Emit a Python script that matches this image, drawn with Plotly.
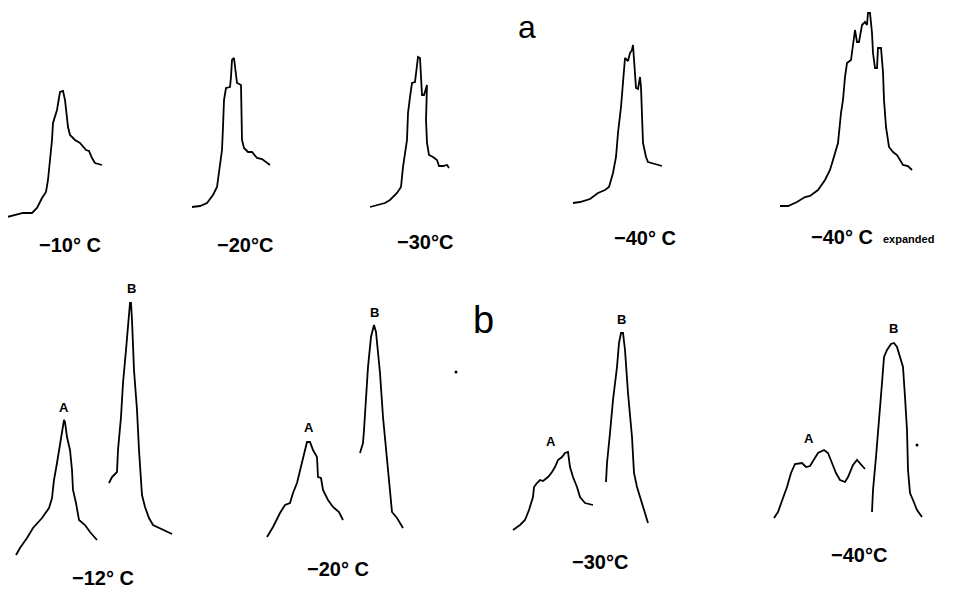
import plotly.graph_objects as go

# ---------------- data: traced spectra (local shift units, intensity) ----------------
# Series a
a_m10_x = [0, 8, 16, 25, 30, 35, 39, 41, 43, 45, 46, 50, 53, 56, 58, 60, 61, 63, 68, 73, 76, 79, 82, 85, 88, 95]
a_m10_y = [0, 2, 4, 4, 9, 19, 25, 37, 54, 77, 94, 107, 125, 126, 117, 100, 90, 82, 77, 74, 70, 67, 66, 59, 54, 52]

a_m20_x = [1, 9, 16, 22, 26, 28, 31, 32, 33, 35, 39, 40, 41, 43, 44, 46, 50, 50.3, 51, 53, 57, 61, 64, 66, 71, 75, 79]
a_m20_y = [0, 1, 4, 12, 20, 34, 57, 80, 107, 119, 120, 130, 147, 149, 142, 124, 122, 100, 67, 59, 55, 55, 52, 49, 48, 45, 42]

a_m30_x = [0, 7, 15, 20, 27, 31, 33, 37, 38, 40, 42, 45, 47, 48, 50, 51, 52, 54, 56, 57, 56, 57, 59, 63, 67, 69, 73, 77, 79]
a_m30_y = [0, 2, 4, 7, 14, 20, 40, 67, 94, 110, 124, 125, 140, 150, 149, 134, 112, 112, 120, 122, 87, 64, 52, 50, 47, 41, 41, 42, 39]

a_m40_x = [0, 7, 17, 25, 32, 36, 38, 40, 43, 45, 48, 50, 51, 52, 54, 55, 57, 59, 60, 61, 63, 65, 67, 68, 69, 70, 73, 75, 82, 89]
a_m40_y = [0, 1, 4, 10, 13, 16, 23, 30, 46, 70, 96, 120, 126, 145, 143, 142, 150, 153, 158, 143, 115, 114, 126, 116, 86, 60, 46, 41, 39, 37]

a_m40e_x = [0, 8, 17, 25, 30, 38, 45, 50, 53, 58, 61, 63, 65, 67, 71, 73, 75, 77, 79, 82, 85, 87, 88, 90, 92, 93, 95, 97,
            98, 101, 103, 104, 106, 109, 113, 117, 120, 123, 128, 132]
a_m40e_y = [0, 0, 4, 9, 10, 16, 26, 36, 46, 63, 93, 106, 129, 143, 146, 163, 176, 164, 164, 181, 184, 181, 193, 193, 173, 153, 138, 138,
            158, 158, 134, 106, 79, 59, 54, 51, 46, 41, 40, 36]

# Series b  (peak A and peak B)
b_m12_A_x = [0, 4, 11, 17, 26, 33, 36, 38, 41, 43, 45, 47, 48, 49, 51, 54, 56, 57, 60, 63, 69, 74, 81]
b_m12_A_y = [0, 7, 17, 27, 37, 47, 57, 75, 92, 105, 118, 132, 135, 133, 118, 105, 85, 65, 52, 35, 30, 23, 15]
b_m12_B_x = [93, 96, 101, 102, 105, 107, 110, 112, 114, 115, 116, 118, 121, 123, 126, 129, 133, 137, 146, 156]
b_m12_B_y = [72, 78, 83, 105, 138, 172, 205, 232, 252, 252, 235, 185, 145, 105, 60, 48, 37, 30, 26, 21]

b_m20_A_x = [0, 6, 13, 18, 23, 26, 30, 33, 36, 39, 40, 43, 46, 50, 51, 54, 56, 61, 66, 72, 76]
b_m20_A_y = [0, 10, 24, 32, 34, 44, 54, 67, 77, 90, 95, 95, 87, 80, 60, 59, 47, 37, 30, 25, 17]
b_m20_B_x = [93, 96, 97, 99, 101, 104, 106, 107, 109, 113, 116, 120, 123, 125, 130, 136]
b_m20_B_y = [84, 94, 107, 134, 170, 200, 210, 212, 205, 164, 120, 74, 40, 25, 19, 9]

b_m30_A_x = [0, 7, 12, 16, 20, 21, 24, 27, 30, 35, 39, 42, 45, 49, 52, 55, 57, 60, 64, 67, 72, 80]
b_m30_A_y = [0, 5, 10, 20, 33, 43, 47, 50, 49, 53, 58, 63, 70, 73, 77, 78, 63, 53, 43, 33, 27, 25]
b_m30_B_x = [93, 94, 97, 100, 104, 106, 108, 110, 112, 115, 119, 121, 124, 129, 135]
b_m30_B_y = [48, 67, 97, 130, 163, 187, 197, 197, 180, 137, 93, 57, 43, 27, 7]

b_m40_A_x = [0, 4, 9, 13, 17, 21, 28, 32, 36, 41, 44, 50, 54, 58, 62, 66, 71, 74, 79, 83, 86, 91]
b_m40_A_y = [0, 6, 20, 31, 45, 54, 55, 51, 52, 60, 65, 68, 65, 55, 45, 38, 36, 41, 53, 58, 55, 49]
b_m40_B_x = [98, 99, 102, 105, 108, 110, 113, 117, 120, 123, 126, 129, 131, 133, 134, 136, 139, 143, 148]
b_m40_B_y = [6, 28, 61, 95, 135, 161, 168, 174, 175, 171, 161, 151, 121, 88, 48, 25, 18, 8, 1]

# stray specks visible on the scanned original
speck_x = [456, 917]
speck_y = [372, 445]

temp_labels_a = ["\u221210\u00b0 C", "\u221220\u00b0C", "\u221230\u00b0C", "\u221240\u00b0 C", "\u221240\u00b0 C"]
temp_labels_b = ["\u221212\u00b0 C", "\u221220\u00b0 C", "\u221230\u00b0C", "\u221240\u00b0C"]

series_a = [(a_m10_x, a_m10_y), (a_m20_x, a_m20_y), (a_m30_x, a_m30_y), (a_m40_x, a_m40_y), (a_m40e_x, a_m40e_y)]
series_b = [
    [(b_m12_A_x, b_m12_A_y), (b_m12_B_x, b_m12_B_y)],
    [(b_m20_A_x, b_m20_A_y), (b_m20_B_x, b_m20_B_y)],
    [(b_m30_A_x, b_m30_A_y), (b_m30_B_x, b_m30_B_y)],
    [(b_m40_A_x, b_m40_A_y), (b_m40_B_x, b_m40_B_y)],
]

# ---------------- layout: panel origins (left, baseline) in canvas units ----------------
origins_a = [(7, 217), (191, 207), (370, 207), (573, 203), (780, 206)]
label_pos_a = [(70, 245), (245, 245), (425, 242), (645, 238), (842, 237)]
origins_b = [(16, 555), (267, 537), (513, 530), (774, 518)]
label_pos_b = [(103, 578), (338, 569), (600, 562), (859, 555)]
# A / B letters offsets (relative to each panel origin)
ab_pos = [((48, 148), (115, 267)), ((42, 110), (107, 225)), ((38, 89), (108, 211)), ((35, 80), (119, 190))]

LINE = dict(color="black", width=1.8)
FAM = "Liberation Sans, Arial, sans-serif"
LABEL_FONT = dict(family=FAM, size=20, color="black")

fig = go.Figure()

def add_curve(ox, oy, xs, ys):
    fig.add_trace(go.Scatter(
        x=[ox + v for v in xs], y=[oy - v for v in ys],
        mode="lines", line=LINE, hoverinfo="skip", showlegend=False))

for (xs, ys), (ox, oy) in zip(series_a, origins_a):
    add_curve(ox, oy, xs, ys)

for pair, (ox, oy) in zip(series_b, origins_b):
    for xs, ys in pair:
        add_curve(ox, oy, xs, ys)

fig.add_trace(go.Scatter(x=speck_x, y=speck_y, mode="markers",
                         marker=dict(color="black", size=3), hoverinfo="skip", showlegend=False))

ann = []
for txt, (lx, ly) in zip(temp_labels_a, label_pos_a):
    ann.append(dict(x=lx, y=ly, text="<b>%s</b>" % txt, font=LABEL_FONT))
ann.append(dict(x=881, y=239, text="<b>expanded</b>", xanchor="left",
                font=dict(family=FAM, size=11, color="black")))
for txt, (lx, ly) in zip(temp_labels_b, label_pos_b):
    ann.append(dict(x=lx, y=ly, text="<b>%s</b>" % txt, font=LABEL_FONT))
for ((ax_, ay_), (bx_, by_)), (ox, oy) in zip(ab_pos, origins_b):
    ann.append(dict(x=ox + ax_, y=oy - ay_, text="<b>A</b>", font=dict(family=FAM, size=13, color="black")))
    ann.append(dict(x=ox + bx_, y=oy - by_, text="<b>B</b>", font=dict(family=FAM, size=13, color="black")))
ann.append(dict(x=527, y=27, text="a", font=dict(family=FAM, size=32, color="black")))
ann.append(dict(x=483, y=320, text="b", font=dict(family=FAM, size=38, color="black")))
for a in ann:
    a.update(xref="x", yref="y", showarrow=False)
    a.setdefault("xanchor", "center")
    a.setdefault("yanchor", "middle")

# The page body has an 8px margin; the axes start at 8 so canvas units equal page pixels.
fig.update_layout(
    width=955, height=584,
    margin=dict(l=0, r=0, t=0, b=0),
    paper_bgcolor="white", plot_bgcolor="white",
    xaxis=dict(range=[8, 963], visible=False, fixedrange=True),
    yaxis=dict(range=[592, 8], visible=False, fixedrange=True),
    annotations=ann,
    showlegend=False,
)

fig.write_html("out.html", config={"displayModeBar": False})
